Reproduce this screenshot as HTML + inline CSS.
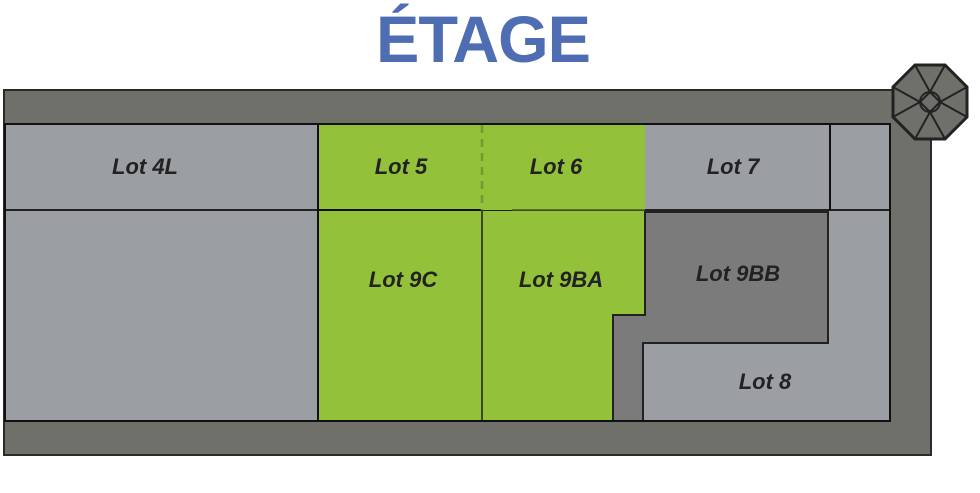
<!DOCTYPE html>
<html><head><meta charset="utf-8"><style>
body{margin:0;width:980px;height:488px;background:#fff;overflow:hidden;font-family:"Liberation Sans",sans-serif}
</style></head><body>
<svg width="980" height="488" viewBox="0 0 980 488" xmlns="http://www.w3.org/2000/svg">
<text x="483" y="62" text-anchor="middle" font-family="Liberation Sans, sans-serif" font-weight="bold" font-size="66" letter-spacing="-1" fill="#4f6db2" textLength="214" lengthAdjust="spacingAndGlyphs">ÉTAGE</text>
<rect x="4" y="90" width="927" height="365" fill="#70706b" stroke="#2a2a2a" stroke-width="2"/>
<rect x="5" y="124" width="885" height="297" fill="#9b9ea3" stroke="#111" stroke-width="2"/>
<line x1="5" y1="210" x2="890" y2="210" stroke="#222" stroke-width="2"/>
<line x1="318" y1="124" x2="318" y2="421" stroke="#111" stroke-width="2"/>
<rect x="319" y="125" width="326" height="85" fill="#93c13a"/>
<polygon points="319,211 645,211 645,315 613,315 613,420 319,420" fill="#93c13a"/>
<line x1="319" y1="210" x2="482" y2="210" stroke="#111" stroke-width="2"/>
<line x1="512" y1="210" x2="645" y2="210" stroke="#4a5a20" stroke-width="1.5"/>
<line x1="482" y1="125" x2="482" y2="210" stroke="#6e9a30" stroke-width="2.5" stroke-dasharray="8,6"/>
<line x1="482" y1="210" x2="482" y2="421" stroke="#3a4a20" stroke-width="2"/>
<polygon points="645,212 828,212 828,343 643,343 643,421 613,421 613,315 645,315" fill="#7a7b7a" stroke="#222" stroke-width="2"/>
<line x1="830" y1="124" x2="830" y2="210" stroke="#111" stroke-width="2"/>
<rect x="5" y="124" width="885" height="297" fill="none" stroke="#111" stroke-width="2"/>
<g transform="translate(930,102)" fill="none" stroke="#222" stroke-width="2">
<polygon points="-15,-37 15,-37 37,-15 37,15 15,37 -15,37 -37,15 -37,-15" fill="#70706b" stroke-width="3"/>
<circle r="10"/><path d="M-15,-37 L0,-10 L15,-37 M37,-15 L10,0 L37,15 M15,37 L0,10 L-15,37 M-37,15 L-10,0 L-37,-15 M0,-10 L10,0 L0,10 L-10,0 Z"/>
</g>
<g font-family="Liberation Sans, sans-serif" font-style="italic" font-weight="bold" font-size="22" fill="#222" text-anchor="middle">
<text x="145" y="174">Lot 4L</text>
<text x="401" y="174">Lot 5</text>
<text x="556" y="174">Lot 6</text>
<text x="733" y="174">Lot 7</text>
<text x="403" y="287">Lot 9C</text>
<text x="561" y="287">Lot 9BA</text>
<text x="738" y="281">Lot 9BB</text>
<text x="765" y="389">Lot 8</text>
</g>
</svg>
</body></html>
